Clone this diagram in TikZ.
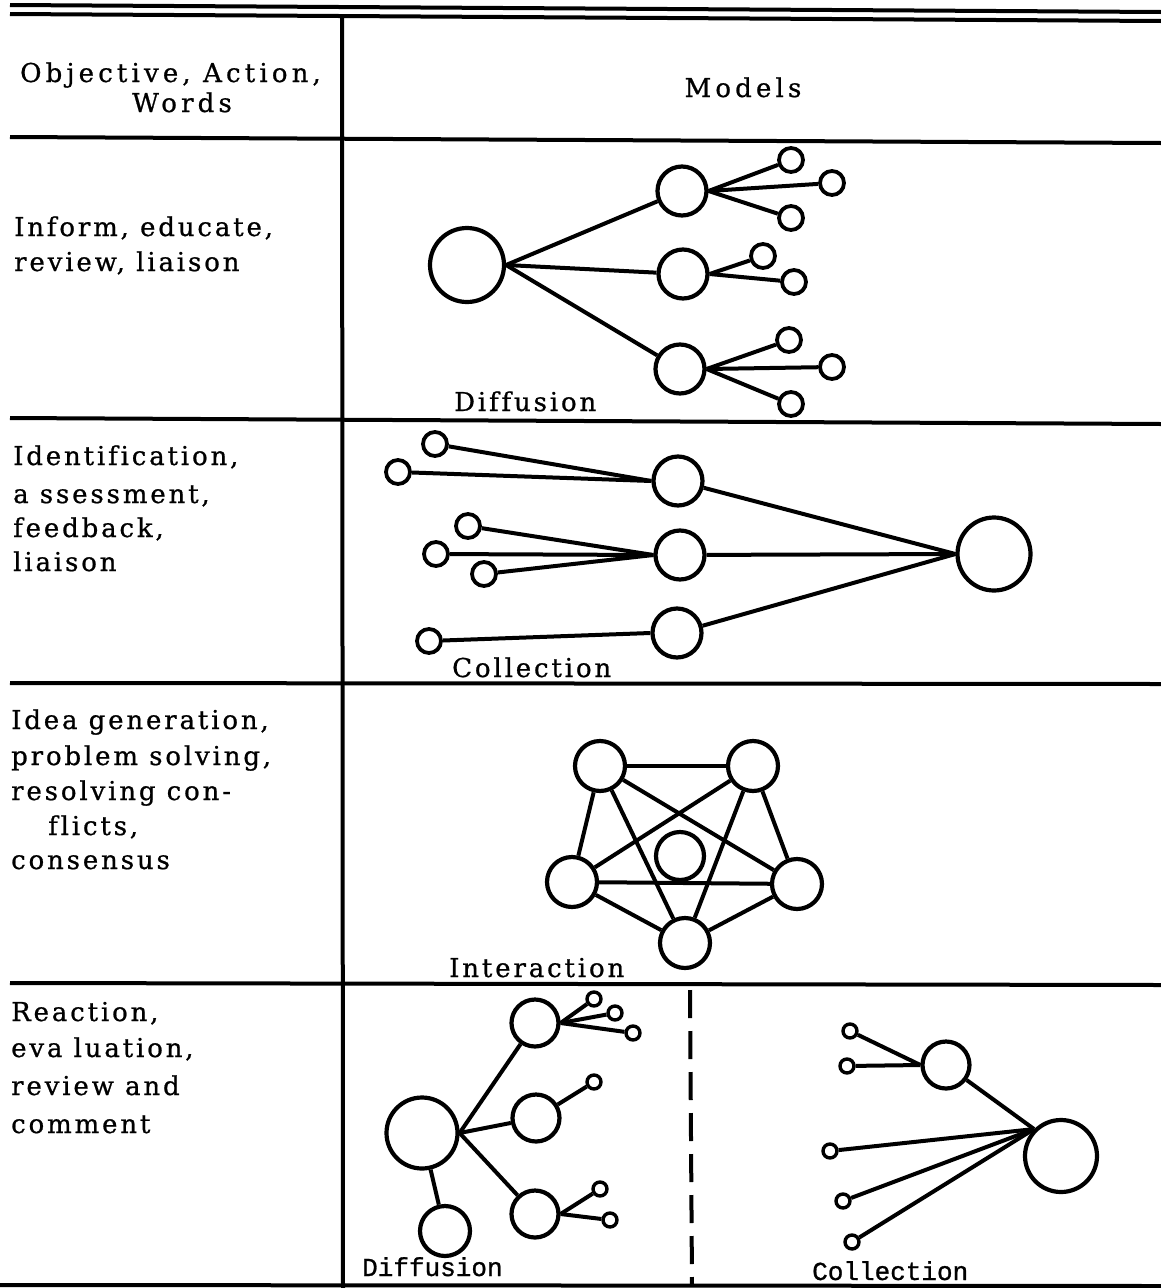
\documentclass[tikz,border=0pt]{standalone}
\usepackage{fontspec}
\setmainfont{DejaVu Serif}[LetterSpace=11,Ligatures=CommonOff,FakeBold=0.8]
\newfontfamily\headfont{DejaVu Serif}[LetterSpace=16,Ligatures=CommonOff,FakeBold=0.8]
\newfontfamily\typefont{Liberation Mono}[FakeBold=1]
\begin{document}
\begin{tikzpicture}[x=1pt,y=-1pt,
  rule/.style={line width=4pt},
  conn/.style={line width=4pt},
  ring/.style={circle,draw,inner sep=0pt,line width=4.2pt},
  bigc/.style={ring,minimum size=74pt},
  midc/.style={ring,minimum size=49pt},
  smc/.style={ring,minimum size=24pt,line width=3.8pt},
  tinyc/.style={ring,minimum size=14pt,line width=3.4pt},
  txt/.style={anchor=base west,inner sep=0pt,font=\fontsize{26}{30}\selectfont},
  htxt/.style={anchor=base west,inner sep=0pt,font=\headfont\fontsize{26}{30}\selectfont},
  tlbl/.style={anchor=base west,inner sep=0pt,font=\typefont\fontsize{26}{30}\selectfont}]
\useasboundingbox (0,0) rectangle (1161,1288);

% table rules
\draw[rule] (10,5) -- (1161,12);
\draw[rule] (10,14) -- (1161,21);
\draw[rule] (10,137) -- (1161,143);
\draw[rule] (10,418) -- (1161,424);
\draw[rule] (10,683) -- (1161,684);
\draw[rule] (10,983) -- (1161,985);
\draw[rule] (0,1285) -- (1161,1286);
\draw[rule] (342,14) -- (343,1288);
\draw[rule,dash pattern=on 28pt off 13pt] (690,990) -- (692,1285);

% header
\node[htxt] (h1) at (20,82) {Objective, Action,};
\node[htxt,anchor=base] (h2) at (182,112) {Words};
\node[htxt,anchor=base] (h3) at (743,97) {Models};

% left column
\node[txt] (r1a) at (14,236) {Inform, educate,};
\node[txt] (r1b) at (14,271) {review, liaison};
\node[txt] (r2a) at (13,465) {Identification,};
\node[txt] (r2b) at (13,503) {a ssessment,};
\node[txt] (r2c) at (13,537) {feedback,};
\node[txt] (r2d) at (13,571) {liaison};
\node[txt] (r3a) at (11,729) {Idea generation,};
\node[txt] (r3b) at (11,765) {problem solving,};
\node[txt] (r3c) at (11,800) {resolving con-};
\node[txt] (r3d) at (48,835) {flicts,};
\node[txt] (r3e) at (11,869) {consensus};
\node[txt] (r4a) at (11,1021) {Reaction,};
\node[txt] (r4b) at (11,1057) {eva luation,};
\node[txt] (r4c) at (11,1095) {review and};
\node[txt] (r4d) at (11,1133) {comment};

% row 1: diffusion
\node[bigc] (d1) at (467,265) {};
\node[midc] (d1a) at (682,191) {};
\node[midc] (d1b) at (683,274) {};
\node[midc] (d1c) at (680,369) {};
\node[smc] (d1a1) at (791,160) {};
\node[smc] (d1a2) at (832,183) {};
\node[smc] (d1a3) at (791,218) {};
\node[smc] (d1b1) at (763,256) {};
\node[smc] (d1b2) at (794,282) {};
\node[smc] (d1c1) at (789,340) {};
\node[smc] (d1c2) at (832,367) {};
\node[smc] (d1c3) at (791,404) {};
\draw[conn] (d1.east) -- (d1a);
\draw[conn] (d1.east) -- (d1b);
\draw[conn] (d1.east) -- (d1c);
\draw[conn] (d1a.east) -- (d1a1);
\draw[conn] (d1a.east) -- (d1a2);
\draw[conn] (d1a.east) -- (d1a3);
\draw[conn] (d1b.east) -- (d1b1);
\draw[conn] (d1b.east) -- (d1b2);
\draw[conn] (d1c.east) -- (d1c1);
\draw[conn] (d1c.east) -- (d1c2);
\draw[conn] (d1c.east) -- (d1c3);
\node[txt] (l1) at (454,411) {Diffusion};

% row 2: collection
\node[smc] (c2a) at (435,444) {};
\node[smc] (c2b) at (398,472) {};
\node[smc] (c2c) at (468,526) {};
\node[smc] (c2d) at (436,554) {};
\node[smc] (c2e) at (484,574) {};
\node[smc] (c2f) at (429,641) {};
\node[midc] (c2m1) at (678,481) {};
\node[midc] (c2m2) at (680,555) {};
\node[midc] (c2m3) at (677,633) {};
\node[bigc,minimum size=73pt] (c2) at (994,554) {};
\draw[conn] (c2a) -- (c2m1.west);
\draw[conn] (c2b) -- (c2m1.west);
\draw[conn] (c2c) -- (c2m2.west);
\draw[conn] (c2d) -- (c2m2.west);
\draw[conn] (c2e) -- (c2m2.west);
\draw[conn] (c2f) -- (c2m3.west);
\draw[conn] (c2m1) -- (c2.west);
\draw[conn] (c2m2) -- (c2.west);
\draw[conn] (c2m3) -- (c2.west);
\node[txt] (l2) at (452,677) {Collection};

% row 3: interaction
\node[midc,minimum size=50pt] (i1) at (600,766) {};
\node[midc,minimum size=50pt] (i2) at (753,766) {};
\node[midc,minimum size=50pt] (i3) at (572,882) {};
\node[midc,minimum size=50pt] (i4) at (797,884) {};
\node[midc,minimum size=50pt] (i5) at (685,943) {};
\node[midc,minimum size=48pt] (i0) at (680,856) {};
\draw[conn] (i1) -- (i2);
\draw[conn] (i1) -- (i3);
\draw[conn] (i1) -- (i4);
\draw[conn] (i1) -- (i5);
\draw[conn] (i2) -- (i3);
\draw[conn] (i2) -- (i4);
\draw[conn] (i2) -- (i5);
\draw[conn] (i3) -- (i4);
\draw[conn] (i3) -- (i5);
\draw[conn] (i4) -- (i5);
\node[txt] (l3) at (449,977) {Interaction};

% row 4 left: diffusion
\node[bigc,minimum size=71pt] (e0) at (422,1133) {};
\node[midc,minimum size=47pt] (e1) at (535,1023) {};
\node[midc,minimum size=47pt] (e2) at (536,1118) {};
\node[midc,minimum size=47pt] (e3) at (535,1214) {};
\node[midc,minimum size=50pt] (e4) at (445,1231) {};
\node[tinyc] (e1a) at (594,999) {};
\node[tinyc] (e1b) at (615,1013) {};
\node[tinyc] (e1c) at (633,1033) {};
\node[tinyc] (e2a) at (594,1082) {};
\node[tinyc] (e3a) at (600,1189) {};
\node[tinyc] (e3b) at (610,1220) {};
\draw[conn] (e0.east) -- (e1);
\draw[conn] (e0.east) -- (e2);
\draw[conn] (e0.east) -- (e3);
\draw[conn] (e0) -- (e4);
\draw[conn] (e1.east) -- (e1a);
\draw[conn] (e1.east) -- (e1b);
\draw[conn] (e1.east) -- (e1c);
\draw[conn] (e2) -- (e2a);
\draw[conn] (e3.east) -- (e3a);
\draw[conn] (e3.east) -- (e3b);
\node[tlbl] (l4) at (362,1276) {Diffusion};

% row 4 right: collection
\node[midc,minimum size=47pt] (f1) at (946,1065) {};
\node[bigc,minimum size=72pt] (f0) at (1061,1156) {};
\node[tinyc] (f1a) at (850,1031) {};
\node[tinyc] (f1b) at (847,1066) {};
\node[tinyc] (f0a) at (830,1151) {};
\node[tinyc] (f0b) at (843,1201) {};
\node[tinyc] (f0c) at (852,1242) {};
\draw[conn] (f1a) -- (f1.west);
\draw[conn] (f1b) -- (f1.west);
\draw[conn] (f1) -- (f0.north west);
\draw[conn] (f0a) -- (f0.north west);
\draw[conn] (f0b) -- (f0.north west);
\draw[conn] (f0c) -- (f0.north west);
\node[tlbl] (l5) at (812,1280) {Collection};
\end{tikzpicture}
\end{document}
